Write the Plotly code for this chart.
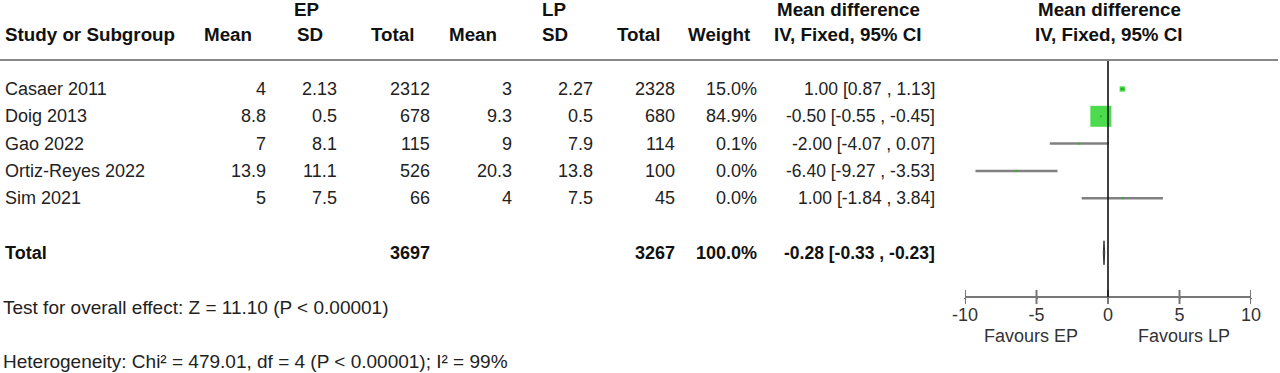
import plotly.graph_objects as go

# ---------------- data ----------------
studies = ["Casaer 2011", "Doig 2013", "Gao 2022", "Ortiz-Reyes 2022", "Sim 2021"]
ep_mean = [4, 8.8, 7, 13.9, 5]
ep_sd = [2.13, 0.5, 8.1, 11.1, 7.5]
ep_total = [2312, 678, 115, 526, 66]
lp_mean = [3, 9.3, 9, 20.3, 4]
lp_sd = [2.27, 0.5, 7.9, 13.8, 7.5]
lp_total = [2328, 680, 114, 100, 45]
weight = [15.0, 84.9, 0.1, 0.0, 0.0]
md = [1.00, -0.50, -2.00, -6.40, 1.00]
ci_lo = [0.87, -0.55, -4.07, -9.27, -1.84]
ci_hi = [1.13, -0.45, 0.07, -3.53, 3.84]

total_ep = 3697
total_lp = 3267
total_weight = 100.0
total_md = -0.28
total_lo = -0.33
total_hi = -0.23

x_ticks = [-10, -5, 0, 5, 10]
favours = ["Favours EP", "Favours LP"]
overall_text = "Test for overall effect: Z = 11.10 (P < 0.00001)"
het_text = "Heterogeneity: Chi² = 479.01, df = 4 (P < 0.00001); I² = 99%"

# ---------------- layout helpers ----------------
W, H = 1280, 373
ROW0, ROWH = 89, 27.3           # pixel y of first row, row height
TOTAL_ROW = 6
AXIS_PX = 297
HEADER_LINE_PX = 60
FONT = "Liberation Sans, Arial, sans-serif"
FS = 18
TXT = "#222222"
BOLD = "#111111"


def px2row(py):
    return (py - ROW0) / ROWH


def px(xp):
    return xp / W


def py(yp):
    return 1 - yp / H


fig = go.Figure()

rows = list(range(len(studies)))

# CI lines
for i in rows:
    fig.add_trace(go.Scatter(x=[ci_lo[i], ci_hi[i]], y=[i, i], mode="lines",
                             line=dict(color="#808080", width=2.5),
                             hoverinfo="skip", showlegend=False))

# squares
maxw = max(weight)
sizes = [2 + 19 * w / maxw for w in weight]
fig.add_trace(go.Scatter(x=md, y=rows, mode="markers",
                         marker=dict(symbol="square", size=sizes, color="#00cc00",
                                     line=dict(width=0)),
                         hoverinfo="skip", showlegend=False))

# diamond for total
dh = 0.44
fig.add_trace(go.Scatter(x=[total_lo, total_md, total_hi, total_md, total_lo],
                         y=[TOTAL_ROW, TOTAL_ROW - dh, TOTAL_ROW, TOTAL_ROW + dh, TOTAL_ROW],
                         mode="lines", fill="toself", fillcolor="#666666",
                         line=dict(color="#333333", width=1),
                         hoverinfo="skip", showlegend=False))

# crossing tick marks
axis_row = px2row(AXIS_PX)
fig.add_trace(go.Scatter(x=x_ticks, y=[axis_row] * len(x_ticks), mode="markers",
                         marker=dict(symbol="line-ns", size=10,
                                     line=dict(color="#777777", width=2)),
                         hoverinfo="skip", showlegend=False))

# zero line
fig.add_shape(type="line", xref="x", yref="y", x0=0, x1=0,
              y0=px2row(HEADER_LINE_PX), y1=axis_row,
              line=dict(color="#111111", width=1.6))
# header line
fig.add_shape(type="line", xref="paper", yref="paper", x0=0, x1=px(1278),
              y0=py(HEADER_LINE_PX), y1=py(HEADER_LINE_PX),
              line=dict(color="#888888", width=2))

ann = []


def text(x, y, s, anchor="right", bold=False, size=FS, color=None):
    ann.append(dict(x=px(x), y=py(y), xref="paper", yref="paper", text=s,
                    showarrow=False, xanchor=anchor, yanchor="middle",
                    font=dict(family=FONT, size=size,
                              color=color or (BOLD if bold else TXT),
                              weight="bold" if bold else "normal")))


# headers
HB = 18.8
H1, H2 = 9.5, 35
text(306, H1, "EP", "center", True, HB)
text(554, H1, "LP", "center", True, HB)
text(848, H1, "Mean difference", "center", True, HB)
text(1109, H1, "Mean difference", "center", True, HB)
text(3, H2, "Study or Subgroup", "left", True, HB)
text(228, H2, "Mean", "center", True, HB)
text(310, H2, "SD", "center", True, HB)
text(392, H2, "Total", "center", True, HB)
text(473, H2, "Mean", "center", True, HB)
text(555, H2, "SD", "center", True, HB)
text(638, H2, "Total", "center", True, HB)
text(719, H2, "Weight", "center", True, HB)
text(848, H2, "IV, Fixed, 95% CI", "center", True, HB)
text(1109, H2, "IV, Fixed, 95% CI", "center", True, HB)

cols = [268, 339, 432, 514, 595, 677, 759, 937]
for i in rows:
    yy = ROW0 + ROWH * i
    text(3, yy, studies[i], "left")
    vals = [f"{ep_mean[i]:g}", f"{ep_sd[i]:g}", f"{ep_total[i]}",
            f"{lp_mean[i]:g}", f"{lp_sd[i]:g}", f"{lp_total[i]}",
            f"{weight[i]:.1f}%", f"{md[i]:.2f} [{ci_lo[i]:.2f} , {ci_hi[i]:.2f}]"]
    for j, (cx, v) in enumerate(zip(cols, vals)):
        text(cx, yy, v, "right", size=17.5 if j == 7 else FS)

yt = ROW0 + ROWH * TOTAL_ROW
text(3, yt, "Total", "left", True)
text(cols[2], yt, f"{total_ep}", "right", True)
text(cols[5], yt, f"{total_lp}", "right", True)
text(cols[6], yt, f"{total_weight:.1f}%", "right", True)
text(cols[7], yt, f"{total_md:.2f} [{total_lo:.2f} , {total_hi:.2f}]", "right", True, 17.5)

text(1, 307, overall_text, "left", size=19)
text(1, 361, het_text, "left", size=19)

# favours labels (data x)
for fx, s in zip([-5.4, 5.3], favours):
    ann.append(dict(x=fx, y=py(336), xref="x", yref="paper", text=s,
                    showarrow=False, xanchor="center", yanchor="middle",
                    font=dict(family=FONT, size=FS, color="#333333")))

fig.update_layout(
    template="none",
    width=W, height=H, autosize=False,
    margin=dict(l=0, r=0, t=0, b=0, pad=0, autoexpand=False),
    paper_bgcolor="white", plot_bgcolor="rgba(0,0,0,0)",
    annotations=ann,
    showlegend=False,
    xaxis=dict(domain=[965 / W, 1251 / W], range=[-10, 10], automargin=False,
               anchor="free", position=py(AXIS_PX),
               showline=True, linecolor="#777777", linewidth=2,
               ticks="outside", ticklen=1, tickwidth=2, tickcolor="#777777",
               tickvals=x_ticks, ticktext=[str(t) for t in x_ticks],
               tickfont=dict(family=FONT, size=FS, color="#333333"),
               showgrid=False, zeroline=False, fixedrange=True),
    yaxis=dict(domain=[0, 1], range=[px2row(H), px2row(0)], automargin=False,
               visible=False, showgrid=False, zeroline=False, fixedrange=True),
)

fig.write_html("out.html", config={"responsive": False, "displayModeBar": False},
               post_script="document.body.style.margin='0';document.body.style.overflow='hidden';")
